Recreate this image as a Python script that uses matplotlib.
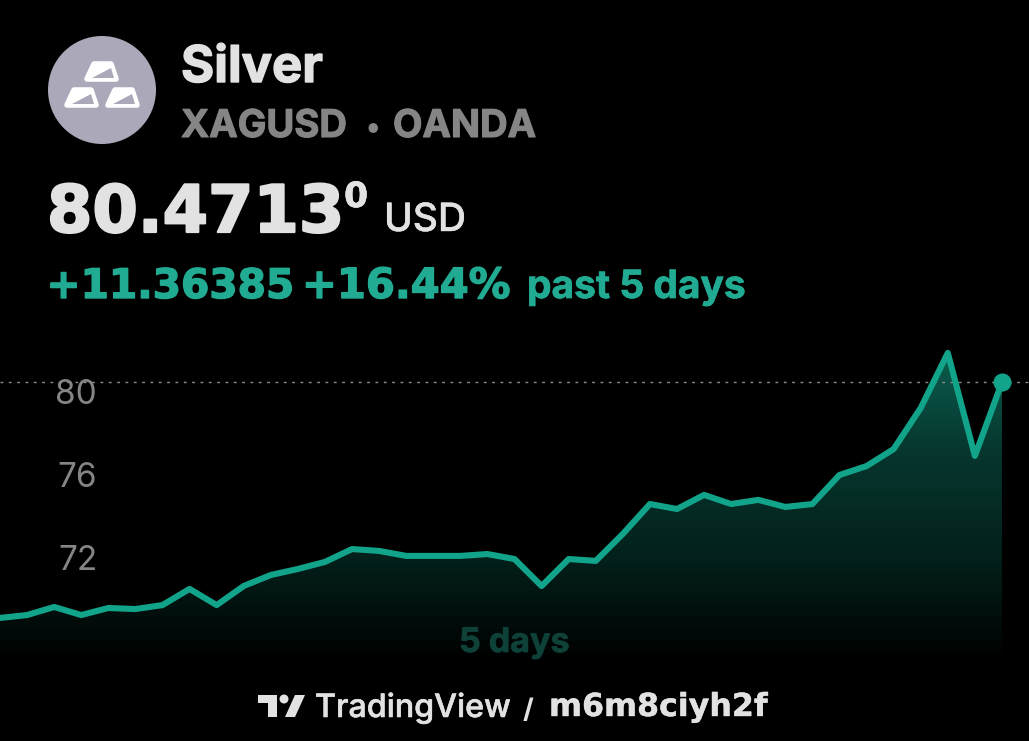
import numpy as np
import matplotlib
matplotlib.use("Agg")
import matplotlib.pyplot as plt
import matplotlib.patheffects as pe
from matplotlib.patches import Circle, Polygon
from matplotlib.colors import LinearSegmentedColormap

plt.rcParams["font.family"] = ["Inter", "DejaVu Sans"]

# 5-day prices
prices = [69.11, 69.25, 69.64, 69.25, 69.59, 69.54, 69.73, 70.51, 69.73, 70.65,
          71.18, 71.47, 71.81, 72.43, 72.34, 72.10, 72.10, 72.10, 72.19, 71.95,
          70.65, 71.95, 71.86, 73.16, 74.60, 74.36, 75.04, 74.60, 74.80, 74.46,
          74.60, 76.00, 76.43, 77.25, 79.23, 81.88, 76.92, 80.47]
steps = np.arange(len(prices))
y_ticks = [72, 76, 80]
last_price = prices[-1]

GREEN = "#12a48a"
TEXT_GREEN = "#22ab93"
WHITE = "#e2e2e2"
GREY = "#858585"
ICON = "#aba9b9"

fig = plt.figure(figsize=(10.29, 7.41), dpi=100, facecolor="black")

# ------ chart, fills the whole figure ------
ax = fig.add_axes([0, 0, 1, 1], facecolor="black")
for s in ax.spines.values():
    s.set_visible(False)
ax.set_xticks([])
ax.set_yticks(y_ticks)
ax.tick_params(axis="y", length=0, pad=-70, labelsize=24, labelcolor=GREY)

# gradient under the line
cmap = LinearSegmentedColormap.from_list("fade", ["#0b5c4c", "#06352d", "#03201b", "#000000"])
grad = np.linspace(0, 1, 256).reshape(-1, 1)
y_top, y_bottom = 81.88, 67.0
img = ax.imshow(grad, extent=(0, 37, y_bottom, y_top), aspect="auto", cmap=cmap, zorder=1)
poly = ax.fill_between(steps, prices, y_bottom, color="none", zorder=1)
img.set_clip_path(poly.get_paths()[0], transform=ax.transData)
ax.set_xlim(0, 1029 / 27.08)
ax.set_ylim(63.18, 98.89)

ax.axhline(last_price, color="#8c8c8c", lw=1, dashes=(2, 4), zorder=2)
ax.plot(steps, prices, color=GREEN, lw=4.4, solid_joinstyle="round", zorder=3)
ax.plot(steps[-1], last_price, "o", color=GREEN, ms=13, mew=0, zorder=4)

# ------ pixel overlay for header, icon and footer ------
ov = fig.add_axes([0, 0, 1, 1], facecolor="none")
ov.set_xlim(0, 1029)
ov.set_ylim(741, 0)
ov.axis("off")

ov.add_patch(Circle((102, 90), 54, color=ICON, lw=0))


def bar(x, y):
    # one ingot of the logo, x/y is its lower-left corner
    outer = [(x + 2, y - 2), (x + 9, y - 17), (x + 26, y - 17), (x + 31, y - 2)]
    ov.add_patch(Polygon(outer, closed=True, fc="white", ec="white", lw=4, joinstyle="round"))
    ov.add_patch(Polygon([(x + 7, y - 3), (x + 26, y - 13), (x + 29, y - 3)],
                         closed=True, fc=ICON, ec="none"))


bar(85, 81)
bar(65, 107)
bar(106, 107)


def label(x, y, s, color, size, family="Inter", weight="bold", stroke=0.0):
    t = ov.text(x, y, s, color=color, fontsize=size, fontweight=weight, family=family, zorder=5)
    if stroke:
        t.set_path_effects([pe.withStroke(linewidth=stroke, foreground=color)])
    return t


label(181, 82, "Silver", WHITE, 36.5, stroke=1.0)
label(181, 137, "XAGUSD", GREY, 27.5, stroke=0.8)
label(366, 137, "•", GREY, 22)
label(393, 137, "OANDA", GREY, 27.5, stroke=0.8)

label(47, 232, "80.4713", WHITE, 47, family="DejaVu Sans", stroke=1.6)
label(344, 207, "0", WHITE, 25, family="DejaVu Sans", stroke=0.5)
label(384, 231, "USD", WHITE, 28, weight="medium", stroke=0.3)

label(46.5, 298, "+11.36385", TEXT_GREEN, 29.3, family="DejaVu Sans", stroke=1.0)
label(302, 298, "+16.44%", TEXT_GREEN, 30, family="DejaVu Sans", stroke=1.0)
label(527, 298, "past 5 days", TEXT_GREEN, 28, stroke=0.5)

label(459, 652, "5 days", "#0e4239", 24.5, stroke=0.5)

# TradingView mark
ov.add_patch(Polygon([(258, 695), (277, 695), (277, 717), (268, 717), (268, 703), (258, 703)],
                     closed=True, fc=WHITE, ec="none"))
ov.add_patch(Circle((284, 699), 4.5, fc=WHITE, ec="none"))
ov.add_patch(Polygon([(295, 695), (305, 695), (295, 717), (285, 717)],
                     closed=True, fc=WHITE, ec="none"))
label(315, 717, "TradingView", WHITE, 23.2, weight="medium", stroke=0.4)
label(523, 718, "/", WHITE, 20)
label(549, 716, "m6m8ciyh2f", WHITE, 22.8, family="DejaVu Sans", stroke=0.3)

fig.savefig("out.png", dpi=100, facecolor="black")
